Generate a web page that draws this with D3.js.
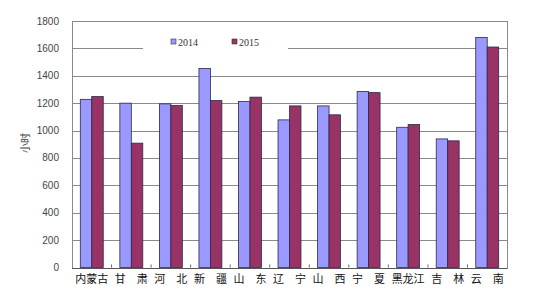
<!DOCTYPE html>
<html lang="en">
<head>
<meta charset="utf-8">
<title>chart</title>
<script src="https://d3js.org/d3.v7.min.js"></script>
<style>
  body { margin: 0; background: #fff; }
</style>
</head>
<body>
<script>

var provinces = ["内蒙古", "甘　肃", "河　北", "新　疆", "山　东", "辽　宁", "山　西", "宁　夏", "黑龙江", "吉　林", "云　南"];
var years = ["2014", "2015"];
var hours2014 = [1228, 1200, 1195, 1454, 1212, 1078, 1180, 1285, 1024, 939, 1680];
var hours2015 = [1248, 908, 1183, 1219, 1244, 1180, 1115, 1277, 1044, 925, 1610];
var yTicks = [0, 200, 400, 600, 800, 1000, 1200, 1400, 1600, 1800];

var width = 535, height = 295;
var plotL = 72, plotR = 507, plotT = 21, plotB = 267.5;

var colors = { "2014": "#9999ff", "2015": "#993366" };

var svg = d3.select("body").append("svg")
    .attr("width", width)
    .attr("height", height);

var x = d3.scaleBand()
    .domain(provinces)
    .range([plotL, plotR])
    .paddingInner(0.42)
    .paddingOuter(0.21);

var xSub = d3.scaleBand()
    .domain(years)
    .range([0, x.bandwidth()]);

var y = d3.scaleLinear()
    .domain([0, 1800])
    .range([plotB, plotT]);

// gridlines
svg.append("g")
  .selectAll("line")
    .data(yTicks.filter(function(d) { return d > 0; }))
  .enter().append("line")
    .attr("x1", plotL).attr("x2", plotR)
    .attr("y1", function(d) { return Math.round(y(d)) + 0.5; })
    .attr("y2", function(d) { return Math.round(y(d)) + 0.5; })
    .attr("stroke", "#8a8a8a")
    .attr("stroke-width", 1);

// plot border
svg.append("rect")
    .attr("x", plotL + 0.5).attr("y", Math.round(plotT) + 0.5)
    .attr("width", plotR - plotL).attr("height", Math.round(plotB) - Math.round(plotT))
    .attr("fill", "none")
    .attr("stroke", "#8a8a8a");

// legend box (sits over the gridline)
var legend = svg.append("g");
legend.append("rect")
    .attr("x", 143).attr("y", 30)
    .attr("width", 145).attr("height", 24)
    .attr("fill", "#fff");
legend.selectAll("g.item")
    .data(years)
  .enter().append("g")
    .attr("class", "item")
    .attr("transform", function(d, i) { return "translate(" + (171 + i * 61) + ",39)"; })
    .each(function(d) {
      var g = d3.select(this);
      g.append("rect").attr("x", 0).attr("y", 0).attr("width", 5).attr("height", 5)
        .attr("fill", colors[d]).attr("stroke", "#333").attr("stroke-width", 0.6);
      g.append("text").attr("x", 7).attr("y", 6.5)
        .style("font-size", "10px")
        .style("font-family", "'Liberation Serif', serif")
        .attr("fill", "#333")
        .text(d);
    });

// bars
var series = [hours2014, hours2015];
svg.append("g")
  .selectAll("g")
    .data(years)
  .enter().append("g")
    .attr("fill", function(d) { return colors[d]; })
  .selectAll("rect")
    .data(function(d, i) {
      return provinces.map(function(p, j) { return { p: p, year: d, v: series[i][j] }; });
    })
  .enter().append("rect")
    .attr("x", function(d) { return x(d.p) + xSub(d.year); })
    .attr("y", function(d) { return y(d.v); })
    .attr("width", xSub.bandwidth())
    .attr("height", function(d) { return y(0) - y(d.v); })
    .attr("stroke", "#2a2a4a")
    .attr("stroke-width", 0.8);

// bottom axis with inward ticks between groups
var step = x.step();
svg.append("g")
  .selectAll("line")
    .data(provinces.slice(1))
  .enter().append("line")
    .attr("x1", function(d) { return x(d) - step * 0.21; })
    .attr("x2", function(d) { return x(d) - step * 0.21; })
    .attr("y1", plotB).attr("y2", plotB - 3)
    .attr("stroke", "#666");

svg.append("line")
    .attr("x1", plotL).attr("x2", plotR)
    .attr("y1", Math.round(plotB) + 0.5).attr("y2", Math.round(plotB) + 0.5)
    .attr("stroke", "#555");

svg.append("g")
  .selectAll("text")
    .data(provinces)
  .enter().append("text")
    .attr("x", function(d) { return x(d) + x.bandwidth() / 2; })
    .attr("y", 283)
    .attr("text-anchor", "middle")
    .style("font-size", "11px")
    .style("font-family", "'Noto Sans CJK SC', sans-serif")
    .attr("fill", "#111")
    .text(function(d) { return d; });

// y axis labels
svg.append("g")
  .selectAll("text")
    .data(yTicks)
  .enter().append("text")
    .attr("x", 59)
    .attr("y", function(d) { return y(d) + 3.5; })
    .attr("text-anchor", "end")
    .style("font-size", "10px")
    .style("font-family", "'Liberation Sans', Arial, sans-serif")
    .attr("fill", "#444")
    .text(function(d) { return d; });

svg.append("text")
    .attr("transform", "translate(29,143) rotate(-90)")
    .attr("text-anchor", "middle")
    .style("font-size", "10px")
    .style("font-family", "'Noto Sans CJK SC', sans-serif")
    .attr("fill", "#444")
    .text("小时");

</script>
</body>
</html>
